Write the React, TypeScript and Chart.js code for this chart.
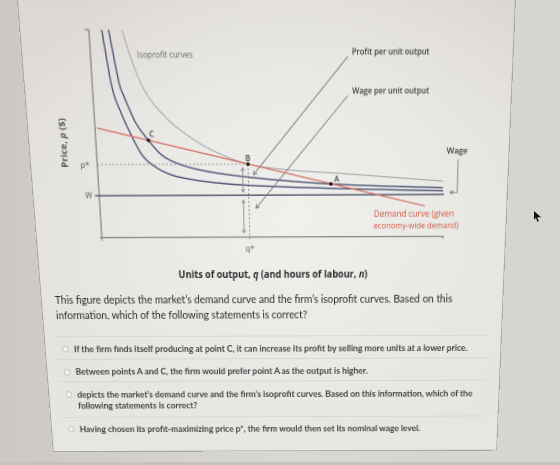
import React, { useEffect, useRef } from "react";
import { Chart, registerables } from "chart.js";

Chart.register(...registerables);

// ---------------- values (q along x, p along y) ----------------
const axisMaxQ = 10;
const axisMaxP = 10;
const wageLevel = 2.1;
const priceStar = 3.63;
const outputStar = 4.34;

const demandQ = [0.06, 9.45];
const demandP = [5.4, 1.53];

const isoprofitLowQ = [0.36, 0.55, 0.79, 1.04, 1.3, 1.66, 2.13, 2.8, 3.57, 4.24, 7.0, 9.97];
const isoprofitLowP = [10, 7.38, 6.04, 5.0, 4.11, 3.52, 3.11, 2.86, 2.69, 2.6, 2.41, 2.28];

const isoprofitMidQ = [0.55, 0.78, 0.86, 1.15, 1.51, 1.87, 2.43, 3.1, 4.25, 6.72, 9.96];
const isoprofitMidP = [10, 7.38, 6.99, 5.72, 4.8, 4.09, 3.6, 3.3, 3.01, 2.64, 2.43];

const isoprofitHighQ = [0.92, 1.12, 1.43, 2.06, 2.66, 3.31, 4.34, 5.55, 6.98, 9.96];
const isoprofitHighP = [10, 8.75, 7.3, 5.85, 5.0, 4.32, 3.63, 3.33, 3.16, 2.76];

const pointNames = ["A", "B", "C"];
const pointQ = [6.72, outputStar, 1.51];
const pointP = [2.64, priceStar, 4.8];

// ---------------- annotation geometry (data units) ----------------
const pointerArrows = [
  { from: [7.2, 8.71], to: [4.49, 3.11] },
  { from: [7.2, 6.88], to: [4.54, 1.45] },
];
const doubleArrows = [
  { q: 4.18, p0: 3.45, p1: 2.25 },
  { q: 4.18, p0: 1.85, p1: 0.22 },
];
const wageBracket = [[10.38, 3.79], [10.38, 2.2], [10.17, 2.2]];

const FIG_FONT = '"Open Sans", "DejaVu Sans", sans-serif';
const TEXT_FONT = 'Lato, "Open Sans", sans-serif';

const chartLabels = [
  { text: "Isoprofit curves", q: 1.31, p: 8.82, align: "left", color: "#666", fit: 56.5, weight: "400" },
  { text: "Profit per unit output", q: 7.32, p: 8.91, align: "left", color: "#404040", fit: 79, weight: "600" },
  { text: "Wage per unit output", q: 7.33, p: 7.11, align: "left", color: "#404040", fit: 79, weight: "600" },
  { text: "Wage", q: 10.04, p: 4.23, align: "left", color: "#404040", fit: 22, weight: "600" },
  { text: "Demand curve (given", q: 7.97, p: 1.13, align: "left", color: "#d2553f", fit: 85, weight: "400" },
  { text: "economy-wide demand)", q: 7.97, p: 0.53, align: "left", color: "#d2553f", fit: 90, weight: "400" },
  { text: pointNames[0], q: 6.89, p: 2.85, align: "center", color: "#444", size: 8, weight: "600" },
  { text: pointNames[1], q: 4.34, p: 3.9, align: "center", color: "#444", size: 8, weight: "600" },
  { text: pointNames[2], q: 1.61, p: 5.08, align: "center", color: "#444", size: 8, weight: "600" },
  { text: "p*", q: -0.35, p: 3.6, align: "center", color: "#555", size: 8, weight: "400" },
  { text: "W", q: -0.3, p: 2.1, align: "center", color: "#555", size: 8, weight: "400" },
  { text: "q*", q: 4.34, p: -0.62, align: "center", color: "#555", size: 8, weight: "400" },
];

// ---------------- perspective of the photo ----------------
const FLAT_W = 500;
const FLAT_H = 452;
const photoQuad = [
  [17, 0],
  [516, -2],
  [497, 450.5],
  [53, 452],
];

function quadMatrix(W0: number, H0: number, q: number[][]) {
  const [[x0, y0], [x1, y1], [x2, y2], [x3, y3]] = q;
  const dx1 = x1 - x2, dx2 = x3 - x2, dx3 = x0 - x1 + x2 - x3;
  const dy1 = y1 - y2, dy2 = y3 - y2, dy3 = y0 - y1 + y2 - y3;
  const det = dx1 * dy2 - dx2 * dy1;
  const g = (dx3 * dy2 - dx2 * dy3) / det;
  const h = (dx1 * dy3 - dx3 * dy1) / det;
  const a = x1 - x0 + g * x1, b = x3 - x0 + h * x3, c = x0;
  const d = y1 - y0 + g * y1, e = y3 - y0 + h * y3, f = y0;
  return `matrix3d(${a / W0},${d / W0},0,${g / W0},${b / H0},${e / H0},0,${h / H0},0,0,1,0,${c},${f},0,1)`;
}

let mctx: CanvasRenderingContext2D | null = null;
function fitSize(text: string, weight: string, family: string, target: number, style = "normal") {
  if (!mctx) mctx = document.createElement("canvas").getContext("2d");
  mctx!.font = `${style} ${weight} 100px ${family}`;
  const w = mctx!.measureText(text).width || 1;
  return (100 * target) / w;
}

const toXY = (qs: number[], ps: number[]) => qs.map((q, i) => ({ x: q, y: ps[i] }));

function head(ctx: CanvasRenderingContext2D, x1: number, y1: number, x2: number, y2: number, s: number) {
  const ang = Math.atan2(y2 - y1, x2 - x1);
  ctx.beginPath();
  ctx.moveTo(x2 - s * Math.cos(ang - 0.55), y2 - s * Math.sin(ang - 0.55));
  ctx.lineTo(x2, y2);
  ctx.lineTo(x2 - s * Math.cos(ang + 0.55), y2 - s * Math.sin(ang + 0.55));
  ctx.stroke();
}

const annotationPlugin = {
  id: "figureAnnotations",
  beforeDatasetsDraw(chart: any) {
    const { ctx, chartArea } = chart;
    ctx.save();
    ctx.strokeStyle = "#858585";
    ctx.lineWidth = 1.2;
    ctx.beginPath();
    ctx.moveTo(chartArea.left - 4, chartArea.top);
    ctx.lineTo(chartArea.left, chartArea.top);
    ctx.moveTo(chartArea.left, chartArea.bottom);
    ctx.lineTo(chartArea.left, chartArea.bottom + 3);
    ctx.moveTo(chartArea.left - 2, chartArea.bottom);
    ctx.lineTo(chartArea.left, chartArea.bottom);
    ctx.moveTo(chartArea.right, chartArea.bottom);
    ctx.lineTo(chartArea.right, chartArea.bottom + 2.5);
    ctx.stroke();
    ctx.restore();
  },
  afterDatasetsDraw(chart: any) {
    const { ctx, scales } = chart;
    const X = (v: number) => scales.x.getPixelForValue(v);
    const Y = (v: number) => scales.y.getPixelForValue(v);
    ctx.save();
    ctx.lineCap = "round";
    ctx.lineJoin = "round";
    ctx.strokeStyle = "#7a7a7a";
    ctx.lineWidth = 0.9;
    for (const a of pointerArrows) {
      const x1 = X(a.from[0]), y1 = Y(a.from[1]), x2 = X(a.to[0]), y2 = Y(a.to[1]);
      ctx.beginPath();
      ctx.moveTo(x1, y1);
      ctx.lineTo(x2, y2);
      ctx.stroke();
      head(ctx, x1, y1, x2, y2, 4);
    }
    ctx.strokeStyle = "#8c8c8c";
    for (const d of doubleArrows) {
      const x = X(d.q), y0 = Y(d.p0), y1 = Y(d.p1);
      ctx.beginPath();
      ctx.moveTo(x, y0);
      ctx.lineTo(x, y1);
      ctx.stroke();
      head(ctx, x, y1, x, y0, 3.2);
      head(ctx, x, y0, x, y1, 3.2);
    }
    ctx.strokeStyle = "#7a7a7a";
    ctx.beginPath();
    wageBracket.forEach((pt, i) => {
      if (i === 0) ctx.moveTo(X(pt[0]), Y(pt[1]));
      else ctx.lineTo(X(pt[0]), Y(pt[1]));
    });
    ctx.stroke();
    const n = wageBracket.length;
    head(ctx, X(wageBracket[n - 2][0]), Y(wageBracket[n - 2][1]), X(wageBracket[n - 1][0]), Y(wageBracket[n - 1][1]), 3.2);
    ctx.textBaseline = "middle";
    for (const l of chartLabels) {
      let size = l.size || 8;
      if (l.fit) {
        ctx.font = `${l.weight} 100px ${FIG_FONT}`;
        size = (100 * l.fit) / ctx.measureText(l.text).width;
      }
      ctx.font = `${l.weight} ${size}px ${FIG_FONT}`;
      ctx.fillStyle = l.color;
      ctx.textAlign = l.align;
      ctx.fillText(l.text, X(l.q), Y(l.p));
    }
    ctx.restore();
  },
};

const line = (data: any[], color: string, width: number, extra: any = {}) => ({
  data,
  showLine: true,
  borderColor: color,
  backgroundColor: color,
  borderWidth: width,
  pointRadius: 0,
  fill: false,
  ...extra,
});

export default function App() {
  const ref = useRef<HTMLCanvasElement>(null);

  useEffect(() => {
    document.body.style.margin = "0";
    document.body.style.overflow = "hidden";
    const chart = new Chart(ref.current as HTMLCanvasElement, {
      type: "scatter",
      data: {
        datasets: [
          {
            data: toXY(pointQ, pointP),
            pointStyle: "rect",
            pointRadius: 2.2,
            backgroundColor: "#111",
            borderColor: "#111",
            borderWidth: 0,
            showLine: false,
          },
          line(toXY(demandQ, demandP), "#d86d62", 1.25),
          line(toXY(isoprofitLowQ, isoprofitLowP), "#4d5474", 1.4, { cubicInterpolationMode: "monotone" }),
          line(toXY(isoprofitMidQ, isoprofitMidP), "#4d5474", 1.4, { cubicInterpolationMode: "monotone" }),
          line(toXY(isoprofitHighQ, isoprofitHighP), "#a9a9ae", 1.1, { cubicInterpolationMode: "monotone" }),
          line([{ x: -0.12, y: wageLevel }, { x: axisMaxQ, y: wageLevel }], "#666b7e", 1.6, { clip: false }),
          line([{ x: 0, y: priceStar }, { x: outputStar, y: priceStar }], "#9c9c9c", 1, { borderDash: [2, 2] }),
          line([{ x: outputStar, y: priceStar }, { x: outputStar, y: -0.22 }], "#8c8c8c", 1, { borderDash: [2, 2], clip: false }),
        ],
      },
      options: {
        animation: false,
        responsive: false,
        devicePixelRatio: 2,
        events: [],
        layout: { padding: { left: 70, top: 26.9, right: 67, bottom: 25.3 }, autoPadding: false },
        plugins: { legend: { display: false }, tooltip: { enabled: false }, title: { display: false } },
        scales: {
          x: {
            type: "linear",
            min: 0,
            max: axisMaxQ,
            grid: { display: false, drawTicks: false },
            ticks: { display: false },
            border: { display: true, color: "#858585", width: 1.3 },
          },
          y: {
            type: "linear",
            min: 0,
            max: axisMaxP,
            grid: { display: false, drawTicks: false },
            ticks: { display: false },
            border: { display: true, color: "#858585", width: 1.3 },
          },
        },
      },
      plugins: [annotationPlugin],
    } as any);
    return () => chart.destroy();
  }, []);

  const q1 = "This figure depicts the market\u2019s demand curve and the firm\u2019s isoprofit curves. Based on this";
  const q2 = "information, which of the following statements is correct?";
  const options = [
    ["If the firm finds itself producing at point C, it can increase its profit by selling more units at a lower price."],
    ["Between points A and C, the firm would prefer point A as the output is higher."],
    [
      "depicts the market\u2019s demand curve and the firm\u2019s isoprofit curves. Based on this information, which of the",
      "following statements is correct?",
    ],
    ["Having chosen its profit-maximizing price p*, the firm would then set its nominal wage level."],
  ];
  const optionY = [339.7, 364.3, 388.9, 426.6];
  const separatorsY = [326.2, 349.5, 374.3, 412.5];

  const qSize = fitSize(q1, "400", TEXT_FONT, 430);
  const oSize = fitSize(options[0][0], "700", TEXT_FONT, 432.7);
  const xTitle = "Units of output, q (and hours of labour, n)";
  const xSize = fitSize(xTitle, "700", FIG_FONT, 204);
  const ySize = fitSize("Price, p ($)", "700", FIG_FONT, 47.8);

  const abs = (left: number, yc: number, extra: any = {}) => ({
    position: "absolute" as const,
    left,
    top: yc,
    transform: "translateY(-50%)",
    lineHeight: 1,
    whiteSpace: "nowrap" as const,
    ...extra,
  });

  return (
    <>
      <div
        style={{
          position: "fixed",
          left: 0,
          top: 0,
          width: 560,
          height: 465,
          background: "linear-gradient(90deg, #cdc8c5 0%, #d9d7d4 50%, #d5d5d1 100%)",
        }}
      />
      <div
        style={{
          position: "fixed",
          left: 0,
          top: 0,
          width: FLAT_W,
          height: FLAT_H,
          transformOrigin: "0 0",
          transform: quadMatrix(FLAT_W, FLAT_H, photoQuad),
        }}
      >
        <div
          style={{
            position: "absolute",
            left: 0,
            top: -40,
            width: FLAT_W,
            height: FLAT_H + 40,
            boxSizing: "border-box",
            borderLeft: "1px solid #a9a8a6",
            borderRight: "1px solid #a9a8a6",
            borderBottom: "1px solid #a9a8a6",
            background:
              "radial-gradient(ellipse 62% 55% at 55% 50%, rgba(240,240,237,1) 0%, rgba(234,234,231,0.9) 50%, rgba(230,230,227,0) 100%), linear-gradient(180deg, #dbd5d1 0%, #e2dfdc 35%, #e6e6e2 100%)",
          }}
        />
        <canvas
          ref={ref}
          width={500}
          height={250}
          style={{ position: "absolute", left: 0, top: 0, width: 500, height: 250 }}
        />
        <div
          style={{
            position: "absolute",
            left: 36.25,
            top: 132.1,
            transform: "translate(-50%, -50%) rotate(-90deg)",
            fontFamily: FIG_FONT,
            fontWeight: 700,
            fontSize: ySize,
            color: "#555",
            whiteSpace: "nowrap",
            lineHeight: 1,
          }}
        >
          Price, <i>p</i> ($)
        </div>
        <div
          style={{
            position: "absolute",
            left: 251.5,
            top: 262.5,
            transform: "translate(-50%, -50%)",
            fontFamily: FIG_FONT,
            fontWeight: 700,
            fontSize: xSize,
            color: "#2e2e2e",
            whiteSpace: "nowrap",
            lineHeight: 1,
          }}
        >
          Units of output, <i>q</i> (and hours of labour, <i>n</i>)
        </div>
        <div style={abs(15.3, 288.0, { fontFamily: TEXT_FONT, fontSize: qSize, color: "#2c2c2c" })}>{q1}</div>
        <div style={abs(15.1, 303.6, { fontFamily: TEXT_FONT, fontSize: qSize, color: "#2c2c2c" })}>{q2}</div>
        {separatorsY.map((y, i) => (
          <div
            key={"s" + i}
            style={{ position: "absolute", left: 12, top: y, width: 473, height: 1, background: "#d6d6d3" }}
          />
        ))}
        {optionY.map((y, i) => (
          <React.Fragment key={"o" + i}>
            <div
              style={{
                position: "absolute",
                left: 18.5,
                top: y - 3.5,
                width: 7,
                height: 7,
                boxSizing: "border-box",
                borderRadius: "50%",
                border: "1px solid #b9b9b7",
                background: "#f3f3f1",
              }}
            />
            {options[i].map((t, j) => (
              <div
                key={j}
                style={abs(32, y + j * 12, {
                  fontFamily: TEXT_FONT,
                  fontWeight: 700,
                  fontSize: oSize,
                  color: "#424242",
                })}
              >
                {t}
              </div>
            ))}
          </React.Fragment>
        ))}
      </div>
      <div style={{ position: "fixed", left: 0, top: 462, width: 560, height: 3, background: "#c2c2c0" }} />
      <div
        style={{
          position: "fixed",
          left: 534,
          top: 211,
          width: 7,
          height: 11,
          background: "#111",
          clipPath: "polygon(0 0, 0 80%, 28% 62%, 50% 100%, 68% 92%, 46% 56%, 100% 56%)",
        }}
      />
    </>
  );
}
